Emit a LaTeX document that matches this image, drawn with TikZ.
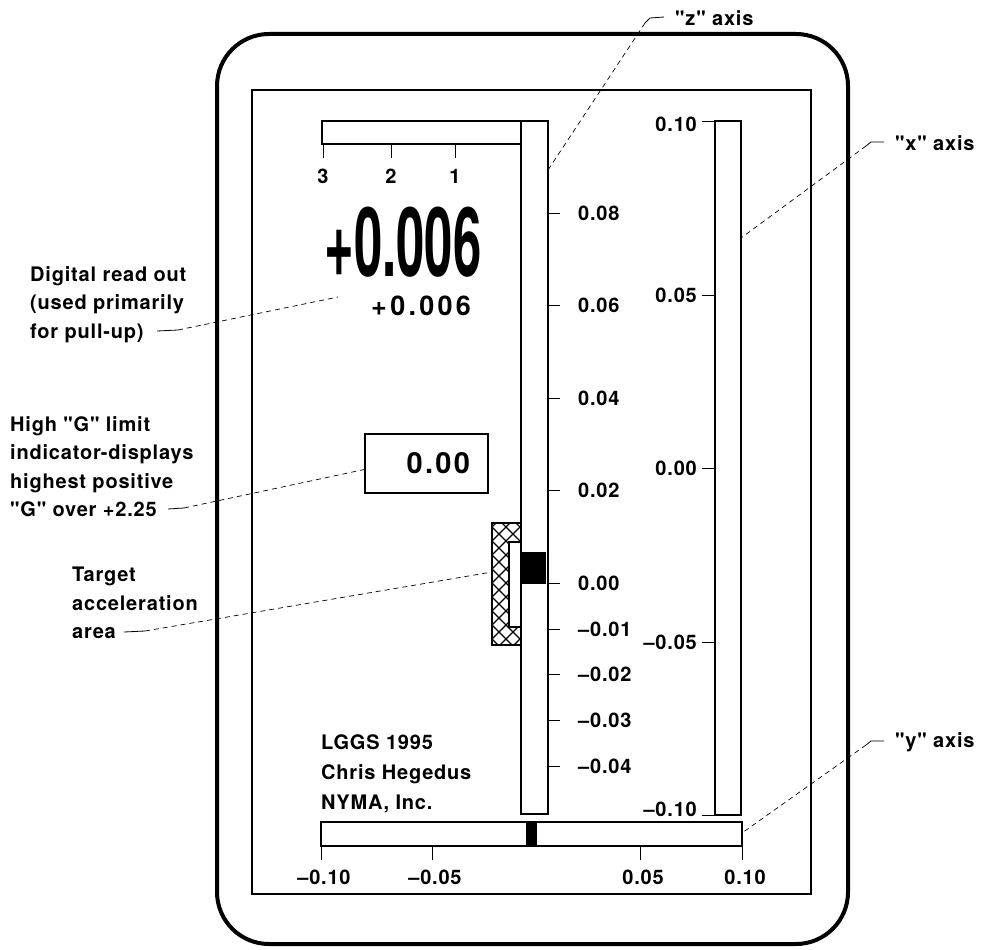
\documentclass[tikz,border=0pt]{standalone}
\usepackage{fontspec}
\setmainfont{TeX Gyre Heros}
\newfontfamily\labelfont[LetterSpace=4]{TeX Gyre Heros}

\begin{document}
\begin{tikzpicture}[x=1pt,y=-1pt,
		lbl/.style={font=\labelfont\bfseries\fontsize{20}{28.5}\selectfont, align=left, inner sep=0pt},
		ticklbl/.style={font=\labelfont\bfseries\fontsize{20}{20}\selectfont, inner sep=0pt},
		bar/.style={draw, line width=1.3pt},
		leader/.style={line width=0.7pt, dash pattern=on 5pt off 4pt},
		knee/.style={line width=0.8pt}]
		\useasboundingbox (0,0) rectangle (981,949);
		
		\draw[line width=4pt, rounded corners=52pt] (217,34) rectangle (848,944);
		\draw[line width=2pt] (252,90) rectangle (811,894);
		
		% bars
		\draw[bar] (322,121) rectangle (521,144);
		\draw[bar] (521,121) rectangle (548,814);
		\draw[bar] (715,121) rectangle (741,815);
		\draw[bar] (321,822) rectangle (742,846);
		\fill (522,552) rectangle (546,584);
		\fill (526,823) rectangle (537,845);
		
		\foreach \x/\t in {323/3,391/2,455/1}
			\draw (\x,144) -- (\x,158) node[ticklbl, below=11pt] (lat\t) {\t};
		\foreach \y/\t [count=\i] in {213/0.08,305/0.06,398/0.04,490/0.02,583/0.00,629/\textendash0.01,674/\textendash0.02,720/\textendash0.03,766/\textendash0.04}
			\draw (548,\y) -- (560,\y) node[ticklbl, anchor=west, xshift=18pt] (zt\i) {\t};
		\foreach \y/\s/\t [count=\i] in {121/-3/0.10,295/0/0.05,468/0/0.00,642/0/\textendash0.05,815/6/\textendash0.10}
			\draw (715,\y) -- (702,\y) node[ticklbl, anchor=east, xshift=-5pt, yshift=\s pt] (xt\i) {\t};
		\foreach \x/\t [count=\i] in {321/\textendash0.10,432/\textendash0.05,640/0.05,742/0.10}
			\draw (\x,846) -- (\x,860) node[ticklbl, below=10pt, xshift=3pt] (yt\i) {\t};
		
		% target area
		\begin{scope}
			\clip (492,523) -- (521,523) -- (521,542) -- (509,542) -- (509,627) -- (521,627) -- (521,645) -- (492,645) -- cycle;
			\foreach \c in {450,464,...,690} {
				\draw[line width=1.3pt] (485,\c) -- ++(60,60);
				\draw[line width=1.3pt] (485,\c) -- ++(60,-60);
			}
		\end{scope}
		\draw[line width=1.8pt] (492,523) -- (521,523) -- (521,542) -- (509,542) -- (509,627) -- (521,627) -- (521,645) -- (492,645) -- cycle;
		
		\node (bigread) [at={(403,242)}, inner sep=0pt, xscale=0.53, font=\bfseries\fontsize{96}{96}\selectfont] {+0.006};
		\node (smallread) [at={(421,306)}, inner sep=0pt, font=\labelfont\bfseries\fontsize{27}{27}\selectfont\addfontfeature{LetterSpace=12}] {+0.006};
		\node (limitbox) [at={(426.5,463.5)}, draw, line width=1.5pt, minimum width=123pt, minimum height=59pt, text width=87pt, inner xsep=18pt, align=right, font=\labelfont\bfseries\fontsize{29}{29}\selectfont\addfontfeature{LetterSpace=8}] {0.00};
		
		\node (credits) [lbl, anchor=north west, at={(321,734)}, font=\labelfont\bfseries\fontsize{20}{30}\selectfont] {LGGS 1995\\Chris Hegedus\\NYMA, Inc.};
		\node (readnote) [lbl, anchor=north west, at={(30,266)}] {Digital read out\\(used primarily\\for pull-up)};
		\node (limitnote) [lbl, anchor=north west, at={(10,416)}] {High "G" limit\\indicator-displays\\highest positive\\"G" over +2.25};
		\node (targetnote) [lbl, anchor=north west, at={(72,567)}] {Target\\acceleration\\area};
		\node (zname) [lbl, anchor=west, at={(675,18)}] {"z" axis};
		\node (xname) [lbl, anchor=west, at={(895,143)}] {"x" axis};
		\node (yname) [lbl, anchor=west, at={(895,742)}] {"y" axis};
		
		% leaders
		\coordinate (readA) at (157,331);
		\coordinate (readB) at (178,330);
		\coordinate (readTip) at (338,297);
		\draw[knee] (readA) -- (readB);
		\draw[leader] (readB) -- (readTip);
		
		\coordinate (limA) at (168,509);
		\coordinate (limB) at (184,508);
		\draw[knee] (limA) -- (limB);
		\draw[leader] (limB) -- ([yshift=-6pt]limitbox.west);
		
		\coordinate (tgtA) at (124,632);
		\coordinate (tgtB) at (145,631);
		\coordinate (tgtTip) at (492,572);
		\draw[knee] (tgtA) -- (tgtB);
		\draw[leader] (tgtB) -- (tgtTip);
		
		\coordinate (zA) at (664,17);
		\coordinate (zB) at (650,18);
		\coordinate (zC) at (645,23);
		\coordinate (zTip) at (548,170);
		\draw[knee] (zA) -- (zB) -- (zC);
		\draw[leader] (zC) -- (zTip);
		
		\coordinate (xA) at (884,142);
		\coordinate (xB) at (871,142);
		\coordinate (xC) at (866,146);
		\coordinate (xTip) at (741,238);
		\draw[knee] (xA) -- (xB) -- (xC);
		\draw[leader] (xC) -- (xTip);
		
		\coordinate (yA) at (884,741);
		\coordinate (yB) at (871,741);
		\coordinate (yC) at (866,745);
		\coordinate (yTip) at (742,833);
		\draw[knee] (yA) -- (yB) -- (yC);
		\draw[leader] (yC) -- (yTip);
	\end{tikzpicture}
\end{document}
